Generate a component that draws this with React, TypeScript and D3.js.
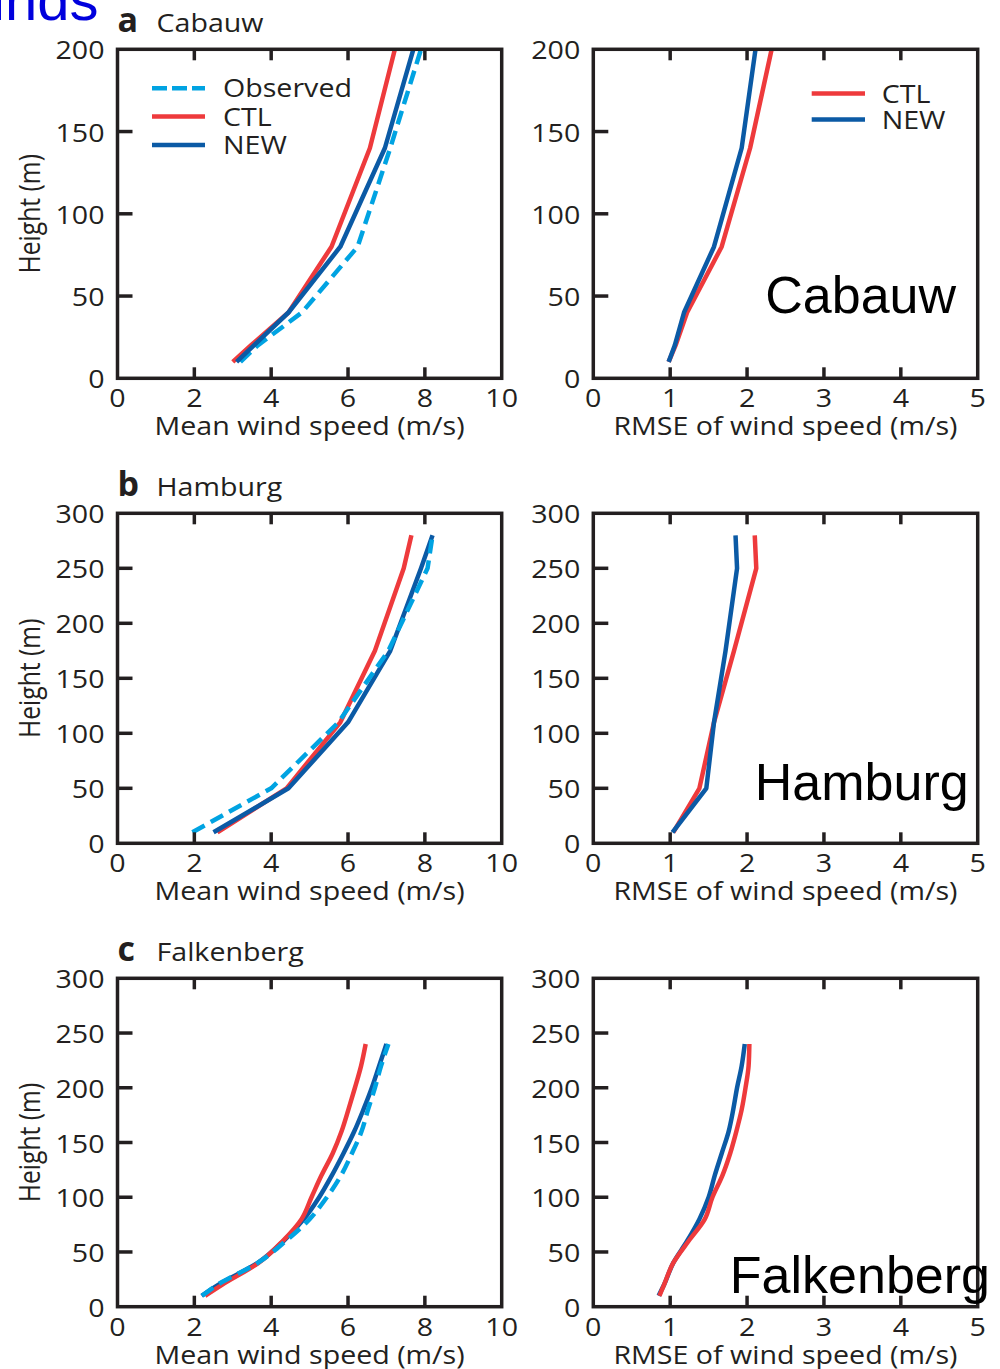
import React from "react";
import * as d3 from "d3";

// Cabauw tower levels (m) and wind speeds (m/s)
const cabauwHeights = [10, 20, 40, 80, 140, 200];
const cabauwObserved = [3.2, 3.65, 4.8, 6.25, 7.1, 7.9];
const cabauwCtl = [3.0, 3.47, 4.45, 5.57, 6.57, 7.22];
const cabauwNew = [3.1, 3.55, 4.45, 5.8, 6.96, 7.7];
const cabauwRmseCtl = [0.98, 1.07, 1.22, 1.67, 2.04, 2.32];
const cabauwRmseNew = [0.98, 1.06, 1.18, 1.57, 1.93, 2.11];

// Hamburg mast levels (m)
const hamburgHeights = [10, 50, 110, 175, 250, 280];
const hamburgObserved = [1.95, 4.0, 5.75, 7.05, 8.07, 8.2];
const hamburgCtl = [2.6, 4.4, 5.8, 6.7, 7.45, 7.65];
const hamburgNew = [2.5, 4.45, 6.0, 7.1, 7.9, 8.2];
const hamburgRmseCtl = [1.04, 1.38, 1.57, 1.83, 2.12, 2.1];
const hamburgRmseNew = [1.03, 1.47, 1.57, 1.72, 1.87, 1.85];

// Falkenberg levels (m)
const falkenbergHeights = [10, 20, 40, 60, 80, 100, 120, 140, 160, 180, 200, 220, 240];
const falkenbergObserved = [2.2, 2.6, 3.65, 4.38, 5.0, 5.45, 5.82, 6.1, 6.35, 6.52, 6.7, 6.86, 7.05];
const falkenbergCtl = [2.28, 2.72, 3.67, 4.3, 4.79, 5.05, 5.31, 5.6, 5.83, 6.01, 6.18, 6.34, 6.46];
const falkenbergNew = [2.19, 2.62, 3.65, 4.32, 4.85, 5.25, 5.58, 5.88, 6.16, 6.4, 6.62, 6.81, 7.0];
const falkenbergRmseCtl = [0.86, 0.92, 1.04, 1.24, 1.45, 1.55, 1.68, 1.78, 1.86, 1.93, 1.98, 2.02, 2.03];
const falkenbergRmseNew = [0.85, 0.92, 1.04, 1.22, 1.38, 1.5, 1.58, 1.67, 1.76, 1.82, 1.87, 1.93, 1.97];

const meanTicks = [0, 2, 4, 6, 8, 10];
const rmseTicks = [0, 1, 2, 3, 4, 5];
const shortHeightTicks = [0, 50, 100, 150, 200];
const tallHeightTicks = [0, 50, 100, 150, 200, 250, 300];

const INK = "#231f20";
const RED = "#ee3a3c";
const BLUE = "#0b5aa5";
const SKY = "#00a3e2";
const FONT = "'Open Sans', 'Noto Sans', sans-serif";

type Series = { heights: number[]; values: number[]; color: string; dashed?: boolean };
type LegendItem = { label: string; color: string; dashed?: boolean };

function Txt(props: {
  x: number; y: number; children: React.ReactNode; anchor?: string; size?: number;
  sx?: number; sy?: number; weight?: number; rotate?: number; fill?: string; family?: string;
}) {
  const { x, y, children, anchor = "start", size = 26, sx = 1.1, sy = 1, weight = 400, rotate = 0, fill = INK, family = FONT } = props;
  return (
    <text
      transform={`translate(${x},${y}) rotate(${rotate}) scale(${sx},${sy})`}
      textAnchor={anchor}
      fontFamily={family}
      fontSize={size}
      fontWeight={weight}
      fill={fill}
    >
      {children}
    </text>
  );
}

function Panel(props: {
  x0: number; x1: number; y0: number; y1: number;
  xMax: number; yMax: number; xTicks: number[]; yTicks: number[];
  xLabel: string; yLabel?: string; series: Series[]; smooth?: boolean;
  legend?: { items: LegendItem[]; lx0: number; lx1: number; ly: number; step: number; tx: number };
  title?: { letter: string; name: string };
  tag?: { text: string; x: number; y: number };
}) {
  const { x0, x1, y0, y1, xMax, yMax, xTicks, yTicks, xLabel, yLabel, series, smooth, legend, title, tag } = props;
  const xs = d3.scaleLinear().domain([0, xMax]).range([x0, x1]);
  const ys = d3.scaleLinear().domain([0, yMax]).range([y1, y0]);
  const inner = (t: number[]) => t.slice(1, -1);

  return (
    <g>
      {series.map((s, i) => {
        const line = d3
          .line<number>()
          .x((v) => xs(v))
          .y((_, k) => ys(s.heights[k]))
          .curve(smooth ? d3.curveMonotoneY : d3.curveLinear);
        return (
          <path
            key={i}
            d={line(s.values) || ""}
            fill="none"
            stroke={s.color}
            strokeWidth={4.5}
            strokeDasharray={s.dashed ? "14 7" : undefined}
            strokeLinejoin="round"
          />
        );
      })}
      <rect x={x0} y={y0} width={x1 - x0} height={y1 - y0} fill="none" stroke={INK} strokeWidth={3.5} />
      {inner(xTicks).map((t) => (
        <g key={"xt" + t}>
          <line x1={xs(t)} x2={xs(t)} y1={y1} y2={y1 - 11} stroke={INK} strokeWidth={3.5} />
          <line x1={xs(t)} x2={xs(t)} y1={y0} y2={y0 + 11} stroke={INK} strokeWidth={3.5} />
        </g>
      ))}
      {inner(yTicks).map((t) => (
        <line key={"yt" + t} x1={x0} x2={x0 + 15} y1={ys(t)} y2={ys(t)} stroke={INK} strokeWidth={3.5} />
      ))}
      {xTicks.map((t) => (
        <Txt key={"xl" + t} x={xs(t)} y={y1 + 29} anchor="middle">{String(t)}</Txt>
      ))}
      {yTicks.map((t) => (
        <Txt key={"yl" + t} x={x0 - 13} y={ys(t) + 10} anchor="end">{String(t)}</Txt>
      ))}
      <Txt x={(x0 + x1) / 2} y={y1 + 57} anchor="middle">{xLabel}</Txt>
      {yLabel && (
        <Txt x={40} y={(y0 + y1) / 2} anchor="middle" rotate={-90} sx={0.95} sy={1.15}>{yLabel}</Txt>
      )}
      {title && (
        <g>
          <Txt x={x0} y={y0 - 17} size={34} weight={700} sx={1}>{title.letter}</Txt>
          <Txt x={x0 + 39} y={y0 - 17}>{title.name}</Txt>
        </g>
      )}
      {legend &&
        legend.items.map((it, i) => {
          const y = y0 + legend.ly + i * legend.step;
          return (
            <g key={"lg" + i}>
              <line
                x1={x0 + legend.lx0}
                x2={x0 + legend.lx1}
                y1={y}
                y2={y}
                stroke={it.color}
                strokeWidth={4.5}
                strokeDasharray={it.dashed ? "15 5" : undefined}
              />
              <Txt x={x0 + legend.tx} y={y + 9}>{it.label}</Txt>
            </g>
          );
        })}
      {tag && (
        <Txt x={x0 + tag.x} y={y1 + tag.y} size={52} sx={1} fill="#000" family="'Liberation Sans', Arial, sans-serif">
          {tag.text}
        </Txt>
      )}
    </g>
  );
}

export default function App() {
  const L = { x0: 117.5, x1: 501.7 };
  const R = { x0: 593.3, x1: 977.7 };
  const rowA = { y0: 49.3, y1: 378.3 };
  const rowB = { y0: 513.3, y1: 843.3 };
  const rowC = { y0: 978.3, y1: 1306.7 };

  const fullLegend: LegendItem[] = [
    { label: "Observed", color: SKY, dashed: true },
    { label: "CTL", color: RED },
    { label: "NEW", color: BLUE },
  ];
  const modelLegend: LegendItem[] = [
    { label: "CTL", color: RED },
    { label: "NEW", color: BLUE },
  ];

  return (
    <svg
      width={1000}
      height={1369}
      style={{ position: "absolute", left: 0, top: 0, background: "#fff" }}
    >
      <Txt x={98.5} y={20} size={58} sx={1} fill="#0000dd" family="'Liberation Sans', Arial, sans-serif" anchor="end">
        Winds
      </Txt>

      {/* a: Cabauw */}
      <Panel
        {...L}
        {...rowA}
        xMax={10}
        yMax={200}
        xTicks={meanTicks}
        yTicks={shortHeightTicks}
        xLabel="Mean wind speed (m/s)"
        yLabel="Height (m)"
        title={{ letter: "a", name: "Cabauw" }}
        series={[
          { heights: cabauwHeights, values: cabauwObserved, color: SKY, dashed: true },
          { heights: cabauwHeights, values: cabauwCtl, color: RED },
          { heights: cabauwHeights, values: cabauwNew, color: BLUE },
        ]}
        legend={{ items: fullLegend, lx0: 34.5, lx1: 87.5, ly: 39, step: 28.3, tx: 105.5 }}
      />
      <Panel
        {...R}
        {...rowA}
        xMax={5}
        yMax={200}
        xTicks={rmseTicks}
        yTicks={shortHeightTicks}
        xLabel="RMSE of wind speed (m/s)"
        series={[
          { heights: cabauwHeights, values: cabauwRmseCtl, color: RED },
          { heights: cabauwHeights, values: cabauwRmseNew, color: BLUE },
        ]}
        legend={{ items: modelLegend, lx0: 218.4, lx1: 271.7, ly: 44.3, step: 26, tx: 288.4 }}
        tag={{ text: "Cabauw", x: 172, y: -65 }}
      />

      {/* b: Hamburg */}
      <Panel
        {...L}
        {...rowB}
        xMax={10}
        yMax={300}
        xTicks={meanTicks}
        yTicks={tallHeightTicks}
        xLabel="Mean wind speed (m/s)"
        yLabel="Height (m)"
        title={{ letter: "b", name: "Hamburg" }}
        series={[
          { heights: hamburgHeights, values: hamburgCtl, color: RED },
          { heights: hamburgHeights, values: hamburgNew, color: BLUE },
          { heights: hamburgHeights, values: hamburgObserved, color: SKY, dashed: true },
        ]}
      />
      <Panel
        {...R}
        {...rowB}
        xMax={5}
        yMax={300}
        xTicks={rmseTicks}
        yTicks={tallHeightTicks}
        xLabel="RMSE of wind speed (m/s)"
        series={[
          { heights: hamburgHeights, values: hamburgRmseCtl, color: RED },
          { heights: hamburgHeights, values: hamburgRmseNew, color: BLUE },
        ]}
        tag={{ text: "Hamburg", x: 161.5, y: -43 }}
      />

      {/* c: Falkenberg */}
      <Panel
        {...L}
        {...rowC}
        xMax={10}
        yMax={300}
        xTicks={meanTicks}
        yTicks={tallHeightTicks}
        xLabel="Mean wind speed (m/s)"
        yLabel="Height (m)"
        title={{ letter: "c", name: "Falkenberg" }}
        smooth
        series={[
          { heights: falkenbergHeights, values: falkenbergNew, color: BLUE },
          { heights: falkenbergHeights, values: falkenbergCtl, color: RED },
          { heights: falkenbergHeights, values: falkenbergObserved, color: SKY, dashed: true },
        ]}
      />
      <Panel
        {...R}
        {...rowC}
        xMax={5}
        yMax={300}
        xTicks={rmseTicks}
        yTicks={tallHeightTicks}
        xLabel="RMSE of wind speed (m/s)"
        smooth
        series={[
          { heights: falkenbergHeights, values: falkenbergRmseNew, color: BLUE },
          { heights: falkenbergHeights, values: falkenbergRmseCtl, color: RED },
        ]}
        tag={{ text: "Falkenberg", x: 136.5, y: -14 }}
      />
    </svg>
  );
}
